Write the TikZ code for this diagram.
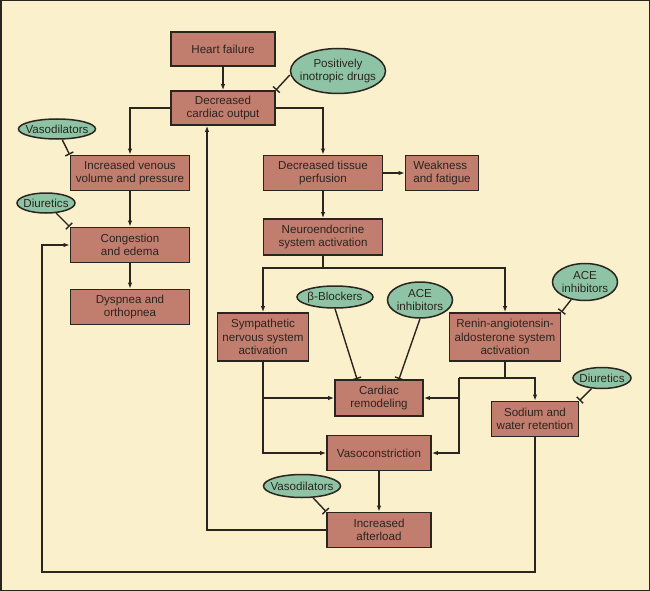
\documentclass[tikz,border=0pt]{standalone}
\usepackage{fontspec}
\setmainfont{Liberation Sans}
\usepackage{tikz}
\usetikzlibrary{arrows, arrows.meta, shapes.geometric}
\definecolor{paper}{HTML}{FAF0CC}
\definecolor{boxfill}{HTML}{C17D6E}
\definecolor{drugfill}{HTML}{8EC4A5}
\definecolor{ink}{HTML}{2B2520}
\tikzset{factor/.style = {shape = rectangle, draw = ink, fill = boxfill, line width = 1.8pt, minimum height = 35pt, inner sep = 0pt, align = center, text = ink}}
\tikzset{drug/.style = {shape = ellipse, draw = ink, fill = drugfill, line width = 1.5pt, inner xsep = -6pt, inner ysep = 0pt, align = center, text = ink}}
\tikzset{edge/.style = {draw = ink, line width = 1.4pt, -{Latex[length = 6pt, width = 4.5pt]}}}
\tikzset{inhibit/.style = {draw = ink, line width = 1.4pt, -{Bar[width = 9pt]}}}
\tikzset{wire/.style = {draw = ink, line width = 1.4pt}}

\begin{document}
\begin{tikzpicture}[x = 1pt, y = -1pt, font = \fontsize{11.6}{13.3}\selectfont]
	\fill[paper] (0, 0) rectangle (650, 591);
	\draw[ink, line width = 1.5pt] (0.75, 0.75) rectangle (649.25, 590.25);
	\useasboundingbox (0, 0) rectangle (650, 591);

	\node[factor, minimum width = 104pt, minimum height = 34pt] (hf) at (223, 49) {Heart failure};
	\node[factor, minimum width = 104pt, minimum height = 34pt] (cco) at (223, 108) {Decreased\\cardiac output};
	\node[drug, minimum width = 95pt, minimum height = 45pt] (inotrop) at (338, 71) {Positively\\inotropic drugs};
	\node[drug, minimum width = 77pt, minimum height = 20pt] (vasoA) at (57, 129) {Vasodilators};
	\node[factor, minimum width = 119pt] (venous) at (130, 173) {Increased venous\\volume and pressure};
	\node[drug, minimum width = 58pt, minimum height = 20pt] (diurA) at (46, 203) {Diuretics};
	\node[factor, minimum width = 119pt] (congest) at (130, 245) {Congestion\\and edema};
	\node[factor, minimum width = 119pt] (dyspnea) at (130, 307) {Dyspnea and\\orthopnea};
	\node[factor, minimum width = 119pt] (tissue) at (323, 173) {Decreased tissue\\perfusion};
	\node[factor, minimum width = 73pt, align = left] (weak) at (442, 173) {Weakness\\and fatigue};
	\node[factor, minimum width = 119pt, minimum height = 36pt] (neuro) at (323, 237) {Neuroendocrine\\system activation};
	\node[factor, minimum width = 91pt, minimum height = 48pt] (symp) at (263, 337) {Sympathetic\\nervous system\\activation};
	\node[drug, minimum width = 76pt, minimum height = 22pt] (bblock) at (335, 297) {β-Blockers};
	\node[drug, minimum width = 65pt, minimum height = 36pt] (aceA) at (420, 300) {ACE\\inhibitors};
	\node[drug, minimum width = 65pt, minimum height = 37pt] (aceB) at (585, 282) {ACE\\inhibitors};
	\node[factor, minimum width = 111pt, minimum height = 48pt] (raas) at (505, 337) {Renin-angiotensin-\\aldosterone system\\activation};
	\node[factor, minimum width = 88pt, minimum height = 36pt] (remodel) at (379, 398) {Cardiac\\remodeling};
	\node[drug, minimum width = 58pt, minimum height = 21pt] (diurB) at (602, 378) {Diuretics};
	\node[factor, minimum width = 87pt] (sodium) at (535, 419) {Sodium and\\water retention};
	\node[factor, minimum width = 104pt] (vasocon) at (379, 453) {Vasoconstriction};
	\node[drug, minimum width = 77pt, minimum height = 23pt] (vasoB) at (302, 486) {Vasodilators};
	\node[factor, minimum width = 104pt] (afterload) at (379, 530) {Increased\\afterload};

	\coordinate (split) at (323, 268);
	\coordinate (rsplit) at (505, 378);
	\coordinate (rjoin) at (459, 378);
	\coordinate (loopbl) at (42, 572);

	\draw[edge] (hf) to (cco);
	\draw[edge] (cco.west) -| (venous.north);
	\draw[edge] (cco.east) -| (tissue.north);
	\draw[edge] (venous) to (congest);
	\draw[edge] (congest) to (dyspnea);
	\draw[edge] (tissue) to (weak);
	\draw[edge] (tissue) to (neuro);
	\draw[wire] (neuro.south) to (split);
	\draw[edge] (split) -| (symp.north);
	\draw[edge] (split) -| (raas.north);
	\draw[edge] (symp.south) |- (remodel.west);
	\draw[edge] (symp.south) |- (vasocon.west);
	\draw[wire] (raas.south) to (rsplit);
	\draw[edge] (rjoin) -| (sodium.north);
	\draw[edge] (rjoin) |- (remodel.east);
	\draw[edge] (rjoin) |- (vasocon.east);
	\draw[edge] (vasocon) to (afterload);
	\draw[edge] (afterload.west) -| ([xshift = -16pt]cco.south);
	\draw[edge] (sodium.south) |- (loopbl) |- (congest.west);

	\draw[inhibit] ([yshift = -4pt]inotrop.west) to (cco.north east);
	\draw[inhibit] (vasoA) to (venous.north west);
	\draw[inhibit] (diurA) to (congest.north west);
	\draw[inhibit] (bblock.south) to ([xshift = -22pt]remodel.north);
	\draw[inhibit] (aceA.south) to ([xshift = 20pt]remodel.north);
	\draw[inhibit] (aceB) to (raas.north east);
	\draw[inhibit] (diurB) to (sodium.north east);
	\draw[inhibit] (vasoB) to (afterload.north west);
\end{tikzpicture}
\end{document}
